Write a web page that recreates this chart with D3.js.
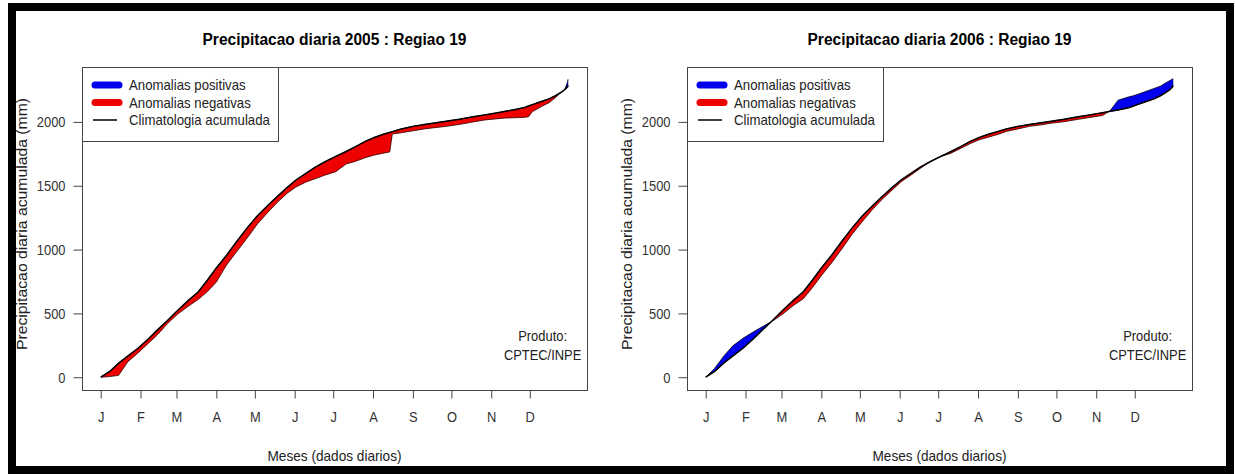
<!DOCTYPE html>
<html>
<head>
<meta charset="utf-8">
<title>Precipitacao diaria - Regiao 19</title>
<script src="https://cdn.jsdelivr.net/npm/d3@7"></script>
<style>
  body {margin:0; background:#fff;}
  svg text {font-family: "Liberation Sans", Arial, sans-serif;}
</style>
</head>
<body>
<script>
var dias = [1,8,15,22,30,38,45,53,61,69,77,84,91,99,107,115,123,131,138,146,153,161,168,176,184,
            192,199,207,214,221,226,228,235,244,253,261,270,280,291,300,310,316,322,330,334,337,344,
            350,355,359,362,364,365];

// climatologia acumulada (mm) - linha preta
var climatologia = [0,45,110,165,227,300,369,445,525,600,670,760,855,955,1065,1170,1265,1345,1412,1485,
                    1545,1598,1645,1690,1730,1768,1804,1848,1878,1903,1918,1924,1945,1965,1980,1992,2005,
                    2020,2040,2055,2072,2083,2094,2110,2125,2135,2160,2180,2205,2230,2250,2270,2285];

// precipitacao observada acumulada (mm)
var obs2005 = [0,5,15,120,190,265,330,420,495,555,610,670,745,880,985,1090,1200,1290,1365,1440,
               1490,1530,1555,1585,1610,1670,1690,1720,1740,1755,1765,1905,1915,1930,1945,1955,1965,
               1980,2000,2015,2025,2030,2032,2035,2040,2080,2120,2150,2190,2228,2250,2300,2335];

var obs2006 = [0,70,165,245,305,355,395,440,495,560,615,700,795,895,1005,1120,1220,1315,1390,1465,
               1530,1585,1635,1690,1728,1755,1790,1830,1860,1880,1895,1900,1925,1945,1965,1975,1990,
               2002,2020,2035,2050,2090,2170,2195,2205,2215,2240,2262,2280,2305,2322,2333,2340];

var meses = ["J","F","M","A","M","J","J","A","S","O","N","D"];
var inicioMes = [1,32,60,91,121,152,182,213,244,274,305,335];
var yTicks = [0,500,1000,1500,2000];

var legenda = [
  {nome: "Anomalias positivas", cor: "#0000ee", larg: 7},
  {nome: "Anomalias negativas", cor: "#ee0000", larg: 7},
  {nome: "Climatologia acumulada", cor: "#000", larg: 1.5}
];

var width = 1235, height = 474;

var svg = d3.select("body").append("svg")
    .attr("width", width)
    .attr("height", height);

svg.append("rect")
    .attr("x", 0).attr("y", 0)
    .attr("width", width).attr("height", height)
    .attr("fill", "#fff");

// o original usa uma fonte estreita: comprime o texto na horizontal
function estreita(sel, fator) {
    sel.each(function() {
        var w = this.getComputedTextLength();
        d3.select(this)
            .attr("textLength", w * fator)
            .attr("lengthAdjust", "spacingAndGlyphs");
    });
}

function painel(ox, ano, obs, id) {
    var g = svg.append("g");

    // eixo x com a margem de 4% do R
    var pad = (365 - 1) * 0.04;
    var x = d3.scaleLinear().domain([1 - pad, 365 + pad]).range([ox + 82, ox + 587]);
    var y = d3.scaleLinear().domain([-100, 2430]).range([390, 67]);

    var pts = dias.map(function(d, i) {
        return {dia: d, clim: climatologia[i], obs: obs[i]};
    });

    // clips acima / abaixo da climatologia
    var defs = g.append("defs");
    defs.append("clipPath").attr("id", "acima" + id)
      .append("path")
        .attr("d", d3.area().x(function(d) { return x(d.dia); })
            .y0(function(d) { return y(d.clim); }).y1(0)(pts));
    defs.append("clipPath").attr("id", "abaixo" + id)
      .append("path")
        .attr("d", d3.area().x(function(d) { return x(d.dia); })
            .y0(function(d) { return y(d.clim); }).y1(height)(pts));

    var anom = d3.area()
        .x(function(d) { return x(d.dia); })
        .y0(function(d) { return y(d.clim); })
        .y1(function(d) { return y(d.obs); });

    g.append("path")
        .attr("d", anom(pts))
        .attr("clip-path", "url(#abaixo" + id + ")")
        .attr("fill", "#ee0000")
        .attr("stroke", "#300")
        .attr("stroke-width", 0.8);

    g.append("path")
        .attr("d", anom(pts))
        .attr("clip-path", "url(#acima" + id + ")")
        .attr("fill", "#0000ee")
        .attr("stroke", "#001")
        .attr("stroke-width", 0.8);

    g.append("path")
        .attr("d", d3.line().x(function(d) { return x(d.dia); })
            .y(function(d) { return y(d.clim); })(pts))
        .attr("fill", "none")
        .attr("stroke", "#000")
        .attr("stroke-width", 1.5);

    // caixa
    g.append("rect")
        .attr("x", ox + 82.5).attr("y", 67.5)
        .attr("width", 505).attr("height", 323)
        .attr("fill", "none")
        .attr("stroke", "#444");

    var ay = g.append("g")
        .attr("transform", "translate(" + (ox + 82.5) + ",0)")
        .call(d3.axisLeft(y).tickValues(yTicks).tickFormat(d3.format("d"))
            .tickSize(9).tickPadding(8));
    var ax = g.append("g")
        .attr("transform", "translate(0,390.5)")
        .call(d3.axisBottom(x).tickValues(inicioMes)
            .tickFormat(function(d, i) { return meses[i]; })
            .tickSize(8).tickPadding(13));
    [ax, ay].forEach(function(a) {
        a.select(".domain").remove();
        a.selectAll("line").attr("stroke", "#444");
        a.selectAll("text")
            .attr("fill", "#333")
            .style("font-family", '"Liberation Sans", Arial, sans-serif')
            .style("font-size", "15px")
            .call(estreita, 0.86);
    });

    // titulos
    g.append("text")
        .attr("x", ox + 334.5).attr("y", 45)
        .attr("text-anchor", "middle")
        .style("font-size", "16px").style("font-weight", "bold")
        .text("Precipitacao diaria " + ano + " : Regiao 19")
        .attr("textLength", 264).attr("lengthAdjust", "spacingAndGlyphs");

    g.append("text")
        .attr("x", ox + 334.5).attr("y", 461)
        .attr("text-anchor", "middle")
        .style("font-size", "15px").attr("fill", "#222")
        .text("Meses (dados diarios)")
        .attr("textLength", 134).attr("lengthAdjust", "spacingAndGlyphs");

    g.append("text")
        .attr("transform", "translate(" + (ox + 27) + ",224) rotate(-90)")
        .attr("text-anchor", "middle")
        .style("font-size", "15px").attr("fill", "#222")
        .text("Precipitacao diaria acumulada (mm)")
        .attr("textLength", 252).attr("lengthAdjust", "spacingAndGlyphs");

    g.append("text")
        .attr("x", x(345)).attr("y", 341)
        .attr("text-anchor", "middle")
        .style("font-size", "15px").attr("fill", "#222")
        .text("Produto:")
        .call(estreita, 0.86);
    g.append("text")
        .attr("x", x(345)).attr("y", 360)
        .attr("text-anchor", "middle")
        .style("font-size", "15px").attr("fill", "#222")
        .text("CPTEC/INPE")
        .call(estreita, 0.86);

    // legenda
    var lg = g.append("g");
    lg.append("rect")
        .attr("x", ox + 82.5).attr("y", 67.5)
        .attr("width", 196).attr("height", 74)
        .attr("fill", "#fff")
        .attr("stroke", "#444");
    var item = lg.selectAll(".item")
        .data(legenda)
        .enter().append("g")
        .attr("transform", function(d, i) { return "translate(" + ox + "," + (85 + i * 17.5) + ")"; });
    item.append("line")
        .attr("x1", function(d) { return d.larg > 2 ? 95 : 93; })
        .attr("x2", function(d) { return d.larg > 2 ? 119 : 117; })
        .attr("stroke", function(d) { return d.cor; })
        .attr("stroke-width", function(d) { return d.larg; })
        .attr("stroke-linecap", function(d) { return d.larg > 2 ? "round" : "butt"; });
    item.append("text")
        .attr("x", 129).attr("y", 5)
        .style("font-size", "15px").attr("fill", "#222")
        .text(function(d) { return d.nome; })
        .call(estreita, 0.88);
}

painel(0, 2005, obs2005, "a");
painel(605, 2006, obs2006, "b");

// moldura preta
svg.append("rect")
    .attr("x", 12).attr("y", 7)
    .attr("width", 1218).attr("height", 463)
    .attr("fill", "none")
    .attr("stroke", "#000")
    .attr("stroke-width", 8);
</script>
</body>
</html>
